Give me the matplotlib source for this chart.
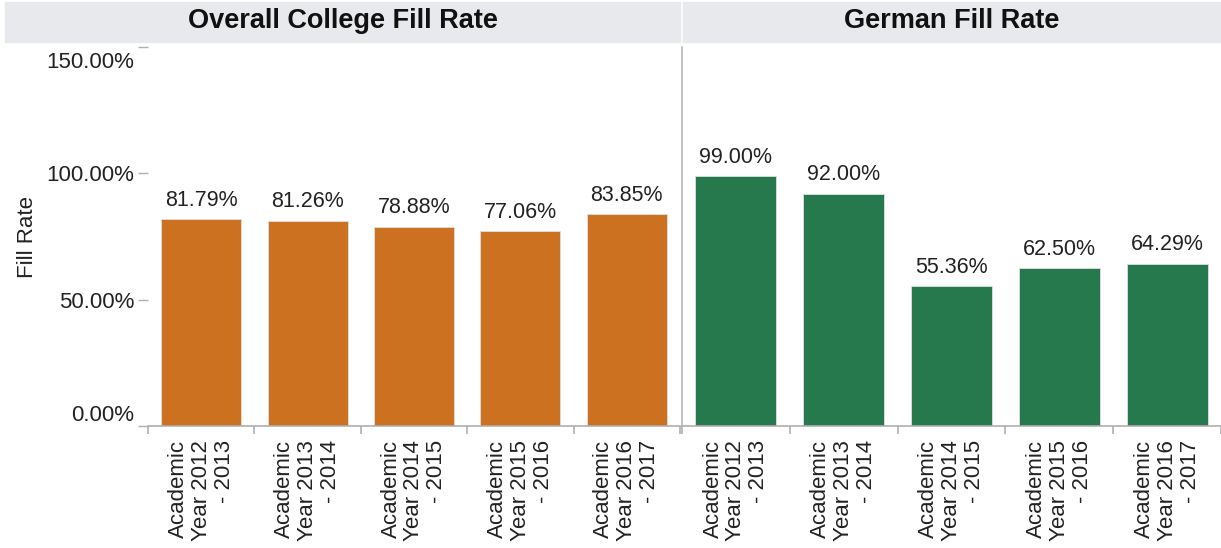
import matplotlib
matplotlib.use("Agg")
import matplotlib.pyplot as plt
import matplotlib.transforms as mtransforms
from matplotlib.patches import Rectangle

plt.rcParams['font.family'] = ['Liberation Sans', 'DejaVu Sans']

categories = ["Academic\nYear 2012\n- 2013", "Academic\nYear 2013\n- 2014",
              "Academic\nYear 2014\n- 2015", "Academic\nYear 2015\n- 2016",
              "Academic\nYear 2016\n- 2017"]
overall = [81.79, 81.26, 78.88, 77.06, 83.85]
german = [99.00, 92.00, 55.36, 62.50, 64.29]
panel_titles = ["Overall College Fill Rate", "German Fill Rate"]
yticks = [0, 50, 100, 150]
ytick_labels = ["0.00%", "50.00%", "100.00%", "150.00%"]

W, H = 1221, 548
fig = plt.figure(figsize=(W / 100, H / 100), dpi=100)

def fx(px):
    return px / W

def fy(py):
    return 1 - py / H

bottom = fy(426)
top = fy(47)
ax1 = fig.add_axes([fx(148), bottom, fx(680 - 148), top - bottom])
ax2 = fig.add_axes([fx(682), bottom, fx(1221 - 682), top - bottom])

colors = ["#CC711F", "#26794C"]
FS = 15.5
TFS = 16
for ax, vals, col, shift in [(ax1, overall, colors[0], -10), (ax2, german, colors[1], -6)]:
    x = list(range(len(vals)))
    ax.bar(x, vals, width=0.75, color=col, edgecolor='#e0e0e0', linewidth=0.6, zorder=2)
    for xi, v in zip(x, vals):
        ax.annotate(f"{v:.2f}%", (xi, v), xytext=(0, 6), textcoords='offset points',
                    ha='center', va='bottom', fontsize=FS, color='#222222')
    ax.set_xlim(-0.5, len(vals) - 0.5)
    ax.set_ylim(0, 150)
    for s in ['top', 'right', 'left']:
        ax.spines[s].set_visible(False)
    ax.spines['bottom'].set_color('#b0b0b0')
    ax.spines['bottom'].set_linewidth(1.2)
    ax.set_xticks(x)
    ax.set_xticklabels(categories, rotation=90, fontsize=TFS, color='#222222',
                       linespacing=1.12, multialignment='right', va='top', ha='center')
    off = mtransforms.ScaledTranslation(shift / 100, 0, fig.dpi_scale_trans)
    for lab in ax.get_xticklabels():
        lab.set_transform(lab.get_transform() + off)
    ax.set_xticks([i + 0.5 for i in range(-1, len(vals))], minor=True)
    ax.tick_params(axis='x', which='major', length=0, pad=10)
    ax.tick_params(axis='x', which='minor', length=6, color='#b0b0b0', width=1.2)
    ax.axhline(0, color='#e04040', lw=0.8, ls=(0, (2, 2)), zorder=3)

ax1.set_yticks(yticks)
ax1.set_yticklabels(ytick_labels, fontsize=TFS, color='#222222')
ax1.tick_params(axis='y', length=7, color='#b0b0b0', width=1.0, pad=3)
lbls = ax1.get_yticklabels()
lbls[0].set_va('bottom')
lbls[-1].set_va('top')
down = mtransforms.ScaledTranslation(0, -5 / 100, fig.dpi_scale_trans)
lbls[-1].set_transform(lbls[-1].get_transform() + down)
ax1.set_ylabel("Fill Rate", fontsize=TFS, color='#222222', labelpad=6)
ax2.set_yticks([])

# separator line between panels
ax2.spines['left'].set_visible(True)
ax2.spines['left'].set_color('#b8b8b8')
ax2.spines['left'].set_linewidth(1.2)

# header bands
fig.patches.append(Rectangle((fx(5), fy(42)), fx(680 - 5), fy(2) - fy(42),
                             transform=fig.transFigure, color='#E8E9EC', zorder=0))
fig.patches.append(Rectangle((fx(683), fy(42)), fx(1221 - 683), fy(2) - fy(42),
                             transform=fig.transFigure, color='#E8E9EC', zorder=0))
fig.text(fx((5 + 680) / 2), fy(21), panel_titles[0], ha='center', va='center',
         fontsize=19.5, fontweight='bold', color='#111111')
fig.text(fx((683 + 1221) / 2), fy(21), panel_titles[1], ha='center', va='center',
         fontsize=19.5, fontweight='bold', color='#111111')

fig.savefig("out.png", dpi=100)
